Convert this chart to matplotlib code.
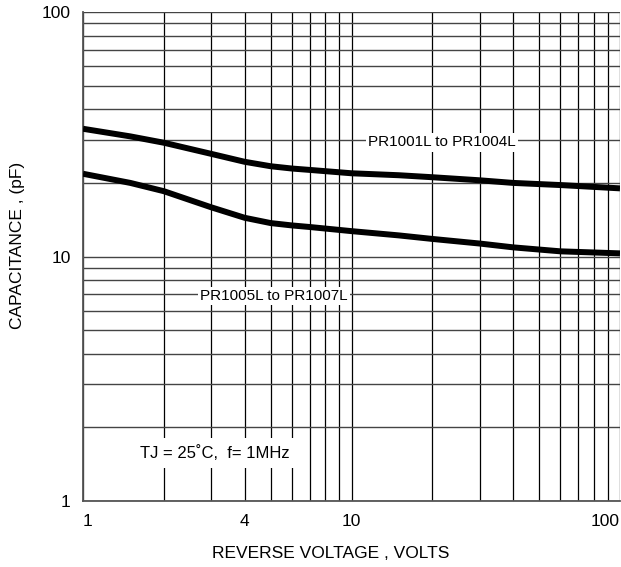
import matplotlib
matplotlib.use("Agg")
from matplotlib import pyplot as plt
from matplotlib.ticker import FixedLocator, NullFormatter

plt.rcParams['font.family'] = ['Liberation Sans', 'DejaVu Sans']

# Reverse voltage (V) and junction capacitance (pF)
volts = [1, 1.5, 2, 3, 4, 5, 6, 7, 10, 15, 20, 30, 40, 60, 100]
cap_pr1001_1004 = [33.3, 31.0, 29.2, 26.3, 24.4, 23.4, 22.9, 22.6, 21.9, 21.5, 21.1, 20.5, 20.0, 19.6, 19.0]
cap_pr1005_1007 = [21.8, 20.0, 18.5, 15.9, 14.4, 13.7, 13.4, 13.2, 12.7, 12.2, 11.8, 11.3, 10.9, 10.5, 10.3]

x_grid = [1, 2, 3, 4, 5, 6, 7, 8, 9, 10, 20, 30, 40, 50, 60, 70, 80, 90, 100]
x_labels = [1, 4, 10, 100]
y_grid = [1, 2, 3, 4, 5, 6, 7, 8, 9, 10, 20, 30, 40, 50, 60, 70, 80, 90, 100]
y_labels = [1, 10, 100]

fig = plt.figure(figsize=(6.21, 5.67), dpi=100)
ax = fig.add_axes([0.1337, 0.1164, 0.8647, 0.8624])

ax.set_xscale("log")
ax.set_yscale("log")
ax.set_xlim(1, 100)
ax.set_ylim(1, 100)

# grid lines
for v in x_grid:
    ax.axvline(v, color="black", lw=0.9, zorder=1)
for v in y_grid:
    ax.axhline(v, color="#444444", lw=1.0, zorder=1)

# curves
ax.plot(volts, cap_pr1001_1004, color="black", lw=4.3, solid_capstyle="butt",
        solid_joinstyle="round", zorder=3)
ax.plot(volts, cap_pr1005_1007, color="black", lw=4.3, solid_capstyle="butt",
        solid_joinstyle="round", zorder=3)

box = dict(facecolor="white", edgecolor="none", pad=1.5)
ax.text(21.7, 29.3, "PR1001L to PR1004L", fontsize=11, ha="center", va="center", bbox=box, zorder=4)
ax.text(5.15, 6.9, "PR1005L to PR1007L", fontsize=11, ha="center", va="center", bbox=box, zorder=4)
ax.text(3.1, 1.57, "TJ = 25\u02daC,  f= 1MHz", fontsize=12, ha="center", va="center",
        bbox=dict(facecolor="white", edgecolor="none", pad=5), zorder=4)

# ticks
ax.xaxis.set_major_locator(FixedLocator(x_labels))
ax.xaxis.set_minor_locator(FixedLocator([]))
ax.xaxis.set_minor_formatter(NullFormatter())
ax.set_xticklabels([str(v) for v in x_labels])
ax.yaxis.set_major_locator(FixedLocator(y_labels))
ax.yaxis.set_minor_locator(FixedLocator([]))
ax.yaxis.set_minor_formatter(NullFormatter())
ax.set_yticklabels([str(v) for v in y_labels])
ax.tick_params(axis="both", length=0, labelsize=12.5)
ax.tick_params(axis="x", pad=9)
ax.tick_params(axis="y", pad=9)
xl = ax.get_xticklabels()
xl[-1].set_horizontalalignment("right")
xl[0].set_horizontalalignment("left")

ax.set_xlabel("REVERSE VOLTAGE , VOLTS", fontsize=12.5)
ax.set_ylabel("CAPACITANCE , (pF)", fontsize=12.5)
ax.xaxis.set_label_coords(0.462, -0.092)
ax.yaxis.set_label_coords(-0.108, 0.523)

for side in ["top", "right"]:
    ax.spines[side].set_visible(False)
for side in ["left", "bottom"]:
    ax.spines[side].set_color("#555555")
    ax.spines[side].set_linewidth(1.3)

plt.savefig("out.png", dpi=100)
